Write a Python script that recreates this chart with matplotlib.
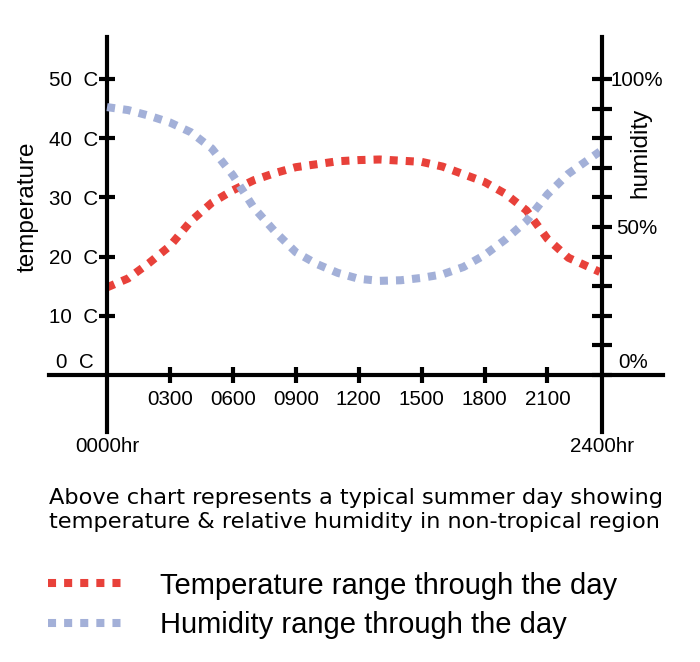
import matplotlib.pyplot as plt

plt.rcParams['font.family'] = ['Liberation Sans', 'DejaVu Sans']

# Data
hours = [0, 1, 2, 3, 4, 5, 6, 7, 8, 9, 10, 11, 12,
         13, 14, 15, 16, 17, 18, 19, 20, 21, 22, 23, 23.5]
temperature = [14.8, 16.3, 18.9, 21.8, 26.0, 29.1, 31.2, 32.9, 34.1, 35.1, 35.6, 36.1, 36.3,
               36.4, 36.2, 36.0, 35.2, 33.9, 32.6, 30.6, 27.8, 23.0, 19.8, 18.2, 17.4]
humidity = [90.5, 89.5, 87.6, 85.3, 82.0, 76.5, 67.5, 56.5, 48.5, 41.5, 37.5, 34.5, 32.5,
            31.8, 32.0, 32.8, 34.0, 36.5, 40.5, 45.8, 52.0, 61.0, 68.0, 73.0, 75.5]

hour_ticks = [3, 6, 9, 12, 15, 18, 21]
hour_labels = ["0300", "0600", "0900", "1200", "1500", "1800", "2100"]
temp_ticks = [10, 20, 30, 40, 50]
temp_labels = ["10  C", "20  C", "30  C", "40  C", "50  C"]
hum_major = [0, 50, 100]
hum_major_labels = ["", "50%", "100%"]
hum_minor = [10, 20, 30, 40, 60, 70, 80, 90]

day_end = 23.6  # where the right axis is drawn

RED = "#e8413a"
BLUE = "#a3b0d8"
AXIS_LW = 3.0
TICK_SIZE = 14.8

fig = plt.figure(figsize=(7.0, 6.62), dpi=100)
ax = fig.add_axes([49 / 700, 1 - 432 / 662, 614 / 700, 395 / 662])
ax.set_xlim(-2.766, 26.51)
ax.set_ylim(-9.63, 57.09)

# Axes as crossing lines
ax.spines['left'].set_position(('data', 0))
ax.spines['bottom'].set_position(('data', 0))
ax.spines['top'].set_visible(False)
ax.spines['right'].set_visible(False)
for s in ('left', 'bottom'):
    ax.spines[s].set_linewidth(AXIS_LW)

ax.set_xticks(hour_ticks)
ax.set_xticklabels(hour_labels)
ax.set_yticks(temp_ticks)
ax.set_yticklabels(temp_labels)
ax.tick_params(axis='x', direction='inout', length=12.2, width=AXIS_LW,
               pad=4.5, labelsize=TICK_SIZE)
ax.tick_params(axis='y', direction='inout', length=12.2, width=AXIS_LW,
               pad=0, labelsize=TICK_SIZE)

ax2 = ax.twinx()
ax2.set_ylim(-19.26, 114.18)
for s in ('left', 'top', 'bottom'):
    ax2.spines[s].set_visible(False)
ax2.spines['right'].set_position(('data', day_end))
ax2.spines['right'].set_linewidth(AXIS_LW)
ax2.set_yticks(hum_major)
ax2.set_yticklabels(hum_major_labels, ha='center')
ax2.set_yticks(hum_minor, minor=True)
ax2.tick_params(axis='y', which='both', direction='inout', length=13.7,
                width=AXIS_LW, pad=18.4, labelsize=TICK_SIZE)

# Curves
temp_line, = ax.plot(hours, temperature, color=RED, lw=5.8, dashes=(1, 1),
                     dash_capstyle='butt',
                     label="Temperature range through the day")
hum_line, = ax2.plot(hours, humidity, color=BLUE, lw=5.8, dashes=(1, 1),
                     dash_capstyle='butt',
                     label="Humidity range through the day")

# Extra labels
ax.annotate("0  C", xy=(0, 0), xytext=(-13, 12), textcoords='offset pixels',
            ha='right', va='center', fontsize=TICK_SIZE)
ax2.annotate("0%", xy=(day_end, 0), xytext=(31.5, 12), textcoords='offset pixels',
             ha='center', va='center', fontsize=TICK_SIZE)
ax.annotate("0000hr", xy=(0, 0), xytext=(0, -72), textcoords='offset pixels',
            ha='center', va='center', fontsize=TICK_SIZE)
ax.annotate("2400hr", xy=(day_end, 0), xytext=(0, -72), textcoords='offset pixels',
            ha='center', va='center', fontsize=TICK_SIZE)

fig.text(28 / 700, 1 - 207 / 662, "temperature", rotation=90,
         ha='center', va='center', fontsize=17.5)
fig.text(640 / 700, 1 - 153 / 662, "humidity", rotation=90,
         ha='center', va='center', fontsize=17.5)

# Caption (wider lettering than the rest)
fig.text(49 / 700, 1 - 504 / 662, "Above chart represents a typical summer day showing",
         ha='left', va='baseline', fontsize=16.2, family='DejaVu Sans')
fig.text(49 / 700, 1 - 528 / 662, "temperature & relative humidity in non-tropical region",
         ha='left', va='baseline', fontsize=16.2, family='DejaVu Sans')

# Legend
fig.legend(handles=[temp_line, hum_line], loc='center left',
           bbox_to_anchor=(48 / 700, 1 - 605.5 / 662), frameon=False,
           fontsize=21, handlelength=2.64, handletextpad=1.2,
           labelspacing=0.4, borderpad=0, borderaxespad=0)

fig.savefig("out.png", dpi=100)
